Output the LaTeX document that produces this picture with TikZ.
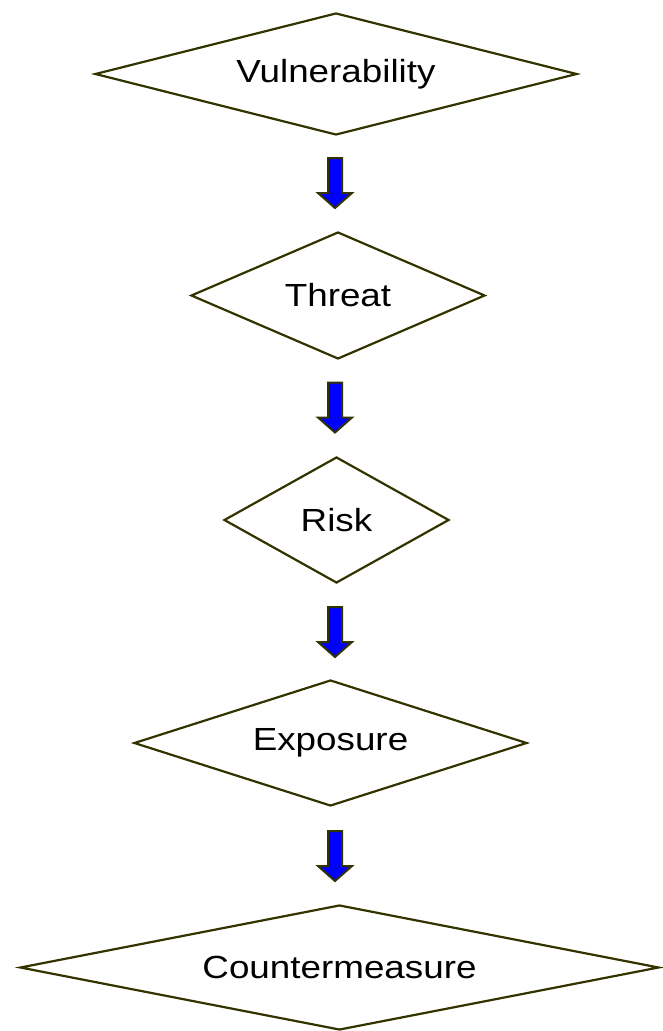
\documentclass[tikz,border=0pt]{standalone}
\usepackage{fontspec}
\setmainfont{Liberation Sans}
\usetikzlibrary{shapes.geometric,calc}
\definecolor{edge}{HTML}{333300}
\newcommand{\blockarrow}[1]{%
  % down-pointing block arrow whose top edge is centred on coordinate #1
  \fill[blue,draw=edge,line width=2pt,line join=miter]
    ($(#1)+(-7,0)$) -- ($(#1)+(7,0)$) -- ($(#1)+(7,35)$) -- ($(#1)+(17,35)$)
    -- ($(#1)+(0,50)$) -- ($(#1)+(-17,35)$) -- ($(#1)+(-7,35)$) -- cycle;}
\begin{document}
\begin{tikzpicture}[x=1pt,y=-1pt,
  decision/.style={diamond,draw=edge,line width=2.2pt,inner sep=0pt,
    font=\fontsize{32}{38}\selectfont}]
  \useasboundingbox (0,0) rectangle (663,1031);

  % the five stages
  \node[decision,aspect=3.95,minimum width=482pt,minimum height=122pt] (vul) at (336,74)
    {\scalebox{1.15}[1]{Vulnerability}};
  \node[decision,aspect=2.3,minimum width=294pt,minimum height=127pt] (thr) at (338,295.5)
    {\scalebox{1.15}[1]{Threat}};
  \node[decision,aspect=1.79,minimum width=225pt,minimum height=126pt] (rsk) at (336.5,520)
    {\scalebox{1.15}[1]{Risk}};
  \node[decision,aspect=3.1,minimum width=393pt,minimum height=126pt] (exp) at (330.5,743)
    {\scalebox{1.15}[1]{Exposure}};
  \node[decision,aspect=5.1,minimum width=639pt,minimum height=125pt] (cm) at (339.5,967.5)
    {\scalebox{1.15}[1]{Countermeasure}};

  % block arrows between the stages
  \coordinate (a1) at (335,158);
  \coordinate (a2) at (335,382.5);
  \coordinate (a3) at (335,607);
  \coordinate (a4) at (335,831);
  \blockarrow{a1}
  \blockarrow{a2}
  \blockarrow{a3}
  \blockarrow{a4}
\end{tikzpicture}
\end{document}
